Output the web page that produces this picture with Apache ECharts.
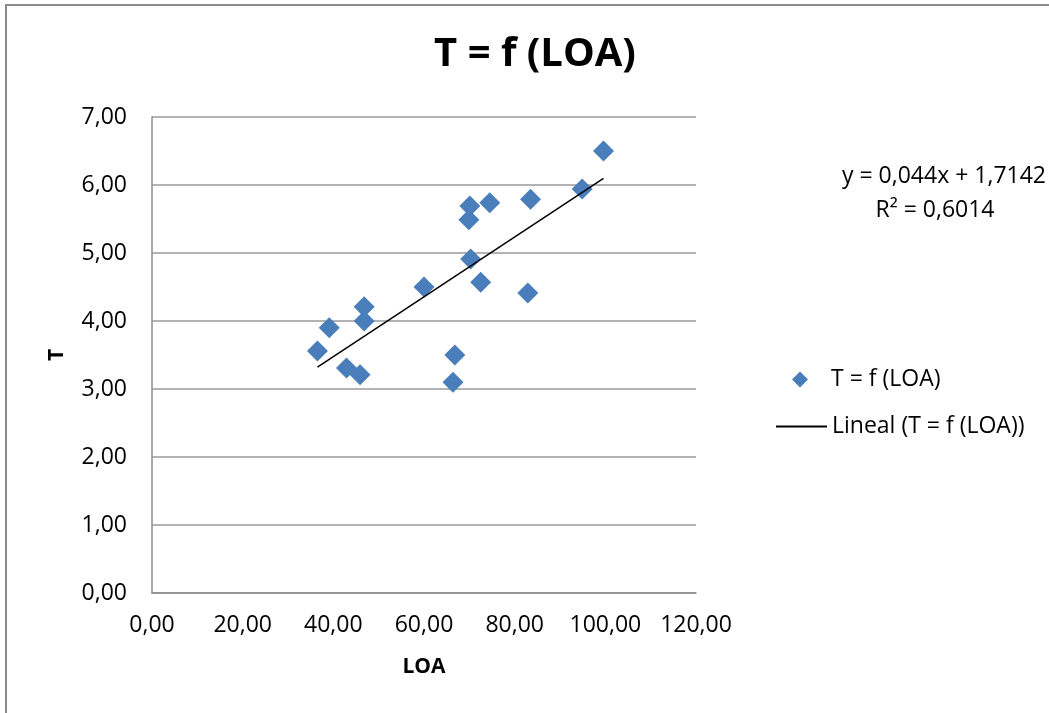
<!DOCTYPE html>
<html>
<head>
<meta charset="utf-8">
<title>T = f (LOA)</title>
<script src="https://cdn.jsdelivr.net/npm/echarts@6/dist/echarts.min.js"></script>
<style>
  html, body { margin: 0; padding: 0; background: #ffffff; }
  #chart { width: 1049px; height: 713px; }
</style>
</head>
<body>
<div id="chart"></div>
<script>
// Eslora total (LOA) and calado (T) of each vessel
const loa = [36.5, 39.1, 42.9, 45.9, 46.8, 46.8, 60.0, 66.4, 66.8, 69.9, 70.1, 70.3, 72.5, 74.5, 82.9, 83.5, 94.9, 99.6];
const calado = [3.56, 3.90, 3.31, 3.21, 4.21, 4.00, 4.50, 3.10, 3.50, 5.49, 5.69, 4.91, 4.57, 5.74, 4.41, 5.79, 5.94, 6.50];

// Linear trend line coefficients, as printed on the chart
const slope = 0.044;
const intercept = 1.7142;
const r2 = 0.6014;

const fontFamily = '"Open Sans", Lato, sans-serif';
const fmt = v => v.toFixed(2).replace('.', ',');
const fmtCoef = v => String(v).replace('.', ',');

const points = loa.map((x, i) => [x, calado[i]]);
const xMin = Math.min(...loa);
const xMax = Math.max(...loa);
const trend = [xMin, xMax].map(x => [x, slope * x + intercept]);

const seriesName = 'T = f (LOA)';
const trendName = 'Lineal (T = f (LOA))';

const chart = echarts.init(document.getElementById('chart'), null, { renderer: 'canvas' });

chart.setOption({
  backgroundColor: '#ffffff',
  animation: false,
  textStyle: { fontFamily: fontFamily, color: '#000000' },
  title: {
    text: 'T = f (LOA)',
    left: 530,
    top: 30,
    textAlign: 'center',
    textStyle: { fontFamily: fontFamily, fontSize: 40, fontWeight: 'bold', color: '#000000' }
  },
  grid: { left: 152, right: 353, top: 117, bottom: 120, containLabel: false },
  xAxis: {
    type: 'value',
    min: 0,
    max: 120,
    interval: 20,
    name: 'LOA',
    nameLocation: 'middle',
    nameGap: 64,
    nameTextStyle: { fontFamily: fontFamily, fontSize: 21, fontWeight: 'bold', color: '#000000' },
    axisLine: { show: true, onZero: false, lineStyle: { color: '#8c8c8c', width: 1.5 } },
    axisTick: { show: false },
    splitLine: { show: false },
    axisLabel: { margin: 21, fontSize: 23, color: '#000000', fontFamily: fontFamily, formatter: fmt }
  },
  yAxis: {
    type: 'value',
    min: 0,
    max: 7,
    interval: 1,
    name: 'T',
    nameLocation: 'middle',
    nameGap: 84,
    nameTextStyle: { fontFamily: fontFamily, fontSize: 21, fontWeight: 'bold', color: '#000000' },
    axisLine: { show: true, onZero: false, lineStyle: { color: '#8c8c8c', width: 1.5 } },
    axisTick: { show: false },
    splitLine: { show: true, lineStyle: { color: '#9a9a9a', width: 1.5 } },
    axisLabel: { margin: 25, fontSize: 23, color: '#000000', fontFamily: fontFamily, formatter: fmt }
  },
  legend: [
    {
      data: [seriesName],
      orient: 'vertical',
      left: 792,
      top: 368,
      padding: 0,
      itemWidth: 16,
      itemHeight: 16,
      textStyle: { fontFamily: fontFamily, fontSize: 23, color: '#000000', padding: [0, 0, 0, 18] }
    },
    {
      data: [trendName],
      orient: 'vertical',
      left: 775,
      top: 415,
      padding: 0,
      itemWidth: 51,
      itemHeight: 14,
      itemStyle: { opacity: 0 },
      textStyle: { fontFamily: fontFamily, fontSize: 23, color: '#000000' }
    }
  ],
  series: [
    {
      name: seriesName,
      type: 'scatter',
      symbol: 'diamond',
      symbolSize: 21,
      itemStyle: { color: '#4a7ebb', opacity: 1 },
      data: points,
      z: 3
    },
    {
      name: trendName,
      type: 'line',
      symbol: 'none',
      lineStyle: { color: '#000000', width: 1.5 },
      itemStyle: { color: '#000000' },
      data: trend,
      z: 4
    }
  ],
  graphic: [
    {
      type: 'rect',
      shape: { x: 6, y: 5, width: 1100, height: 800 },
      style: { fill: 'none', stroke: '#8a8a8a', lineWidth: 2 },
      silent: true
    },
    {
      type: 'text',
      x: 1046,
      y: 176,
      style: {
        text: 'y = ' + fmtCoef(slope) + 'x + ' + fmtCoef(intercept),
        fontFamily: fontFamily,
        fontSize: 23,
        fill: '#000000',
        textAlign: 'right',
        textVerticalAlign: 'middle'
      }
    },
    {
      type: 'text',
      x: 935,
      y: 210,
      style: {
        text: 'R² = ' + fmtCoef(r2),
        fontFamily: fontFamily,
        fontSize: 23,
        fill: '#000000',
        textAlign: 'center',
        textVerticalAlign: 'middle'
      }
    }
  ]
});
</script>
</body>
</html>
